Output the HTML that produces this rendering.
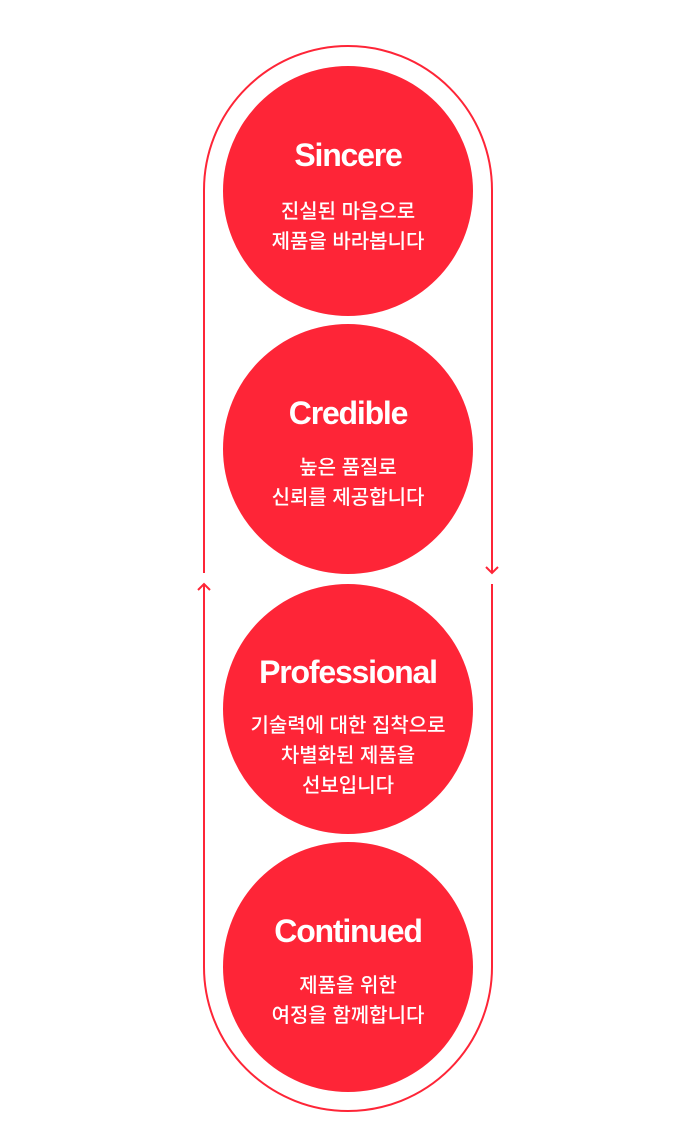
<!DOCTYPE html>
<html><head><meta charset="utf-8"><style>
body{margin:0;width:695px;height:1128px;background:#fff;position:relative;overflow:hidden}
.c{position:absolute;left:223px;width:250px;height:250px;border-radius:50%;background:#fe2537;color:#fff;text-align:center;font-family:"Liberation Sans","Noto Sans CJK KR",sans-serif}
.t{position:absolute;left:0;right:0;font-weight:bold;font-size:32px;letter-spacing:-1.2px;line-height:34px}
.k{position:absolute;left:0;right:0;font-size:20px;line-height:30px;font-weight:500}
</style></head><body>
<svg width="695" height="1128" style="position:absolute;left:0;top:0" fill="none" stroke="#fe2537" stroke-width="2">
<path d="M204 573 V190 A144 144 0 0 1 492 190 V573"/>
<path d="M492 584 V967 A144 144 0 0 1 204 967 V584"/>
<path d="M198 590 L204 584 L210 590"/>
<path d="M486 567 L492 573 L498 567"/>
</svg>
<div class="c" style="top:66px"><div class="t" style="top:72px">Sincere</div><div class="k" style="top:131px">진실된 마음으로<br>제품을 바라봅니다</div></div>
<div class="c" style="top:324px"><div class="t" style="top:72px">Credible</div><div class="k" style="top:129px">높은 품질로<br>신뢰를 제공합니다</div></div>
<div class="c" style="top:584px"><div class="t" style="top:71px">Professional</div><div class="k" style="top:127px">기술력에 대한 집착으로<br>차별화된 제품을<br>선보입니다</div></div>
<div class="c" style="top:842px"><div class="t" style="top:72px">Continued</div><div class="k" style="top:129px">제품을 위한<br>여정을 함께합니다</div></div>
</body></html>
